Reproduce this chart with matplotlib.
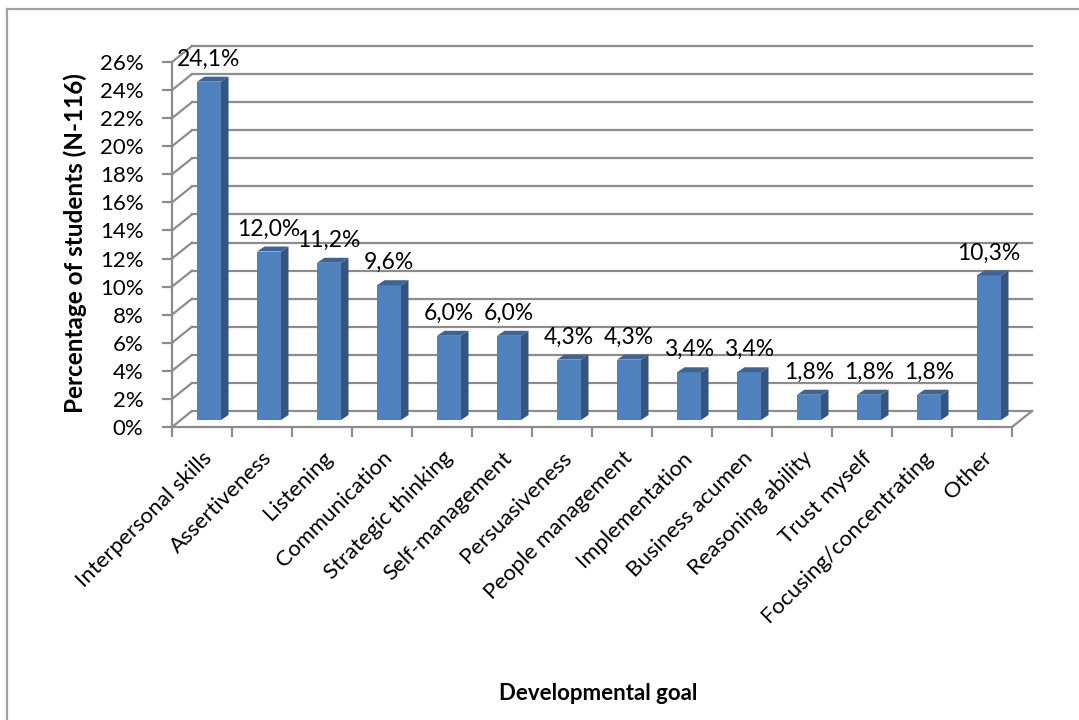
import matplotlib
matplotlib.use("Agg")
import matplotlib.pyplot as plt
from matplotlib.patches import Polygon
from matplotlib.lines import Line2D

# --- Data ---
goals = ["Interpersonal skills", "Assertiveness", "Listening", "Communication",
         "Strategic thinking", "Self-management", "Persuasiveness",
         "People management", "Implementation", "Business acumen",
         "Reasoning ability", "Trust myself", "Focusing/concentrating", "Other"]
shares = [24.1, 12.0, 11.2, 9.6, 6.0, 6.0, 4.3, 4.3, 3.4, 3.4, 1.8, 1.8, 1.8, 10.3]
y_ticks = list(range(0, 27, 2))

# --- Style ---
FRONT = "#4F81BD"
SIDE = "#34557F"
TOP = "#3C6496"
GRID = "#8C8C8C"
FS = 16
plt.rcParams["font.family"] = ["Lato", "DejaVu Sans"]

W, H, DPI = 1079, 720, 100
fig = plt.figure(figsize=(W / DPI, H / DPI), dpi=DPI)

# front plane of the plot area, in pixels
left, right, bottom, top = 172, 1012, 427, 62
ax = fig.add_axes([left / W, (H - bottom) / H, (right - left) / W, (bottom - top) / H])
ax.set_xlim(-0.5, len(goals) - 0.5)
ax.set_ylim(0, 26)
ax.patch.set_visible(False)

# pixel -> data unit helpers
px_x = (len(goals)) / (right - left)
px_y = 26 / (bottom - top)

# wall depth and bar placement (pixels)
wall_dx, wall_dy = 20 * px_x, 16 * px_y
bar_dx, bar_dy = 7 * px_x, 7 * px_y
depth_dx, depth_dy = 7.5 * px_x, 5 * px_y
bar_w = 24 * px_x

x0, x1 = -0.5, len(goals) - 0.5
lw = 1.6

# back wall gridlines + left wall diagonals
for t in y_ticks:
    ax.add_line(Line2D([x0 + wall_dx, x1 + wall_dx], [t + wall_dy] * 2,
                       color=GRID, lw=lw, clip_on=False, zorder=1))
    ax.add_line(Line2D([x0, x0 + wall_dx], [t, t + wall_dy],
                       color=GRID, lw=lw, clip_on=False, zorder=1))
# right edge of the floor
ax.add_line(Line2D([x1, x1 + wall_dx], [0, wall_dy],
                   color=GRID, lw=lw, clip_on=False, zorder=1))

# bars: front face, side face and top face
for i, v in enumerate(shares):
    xl = i - bar_w / 2 + bar_dx
    xr = xl + bar_w
    ax.bar(xl + bar_w / 2, v, width=bar_w, bottom=bar_dy, color=FRONT,
           edgecolor="none", zorder=3)
    ax.add_patch(Polygon([(xr, bar_dy), (xr + depth_dx, bar_dy + depth_dy),
                          (xr + depth_dx, bar_dy + v + depth_dy), (xr, bar_dy + v)],
                         closed=True, facecolor=SIDE, edgecolor="none", zorder=3,
                         clip_on=False))
    ax.add_patch(Polygon([(xl, bar_dy + v), (xr, bar_dy + v),
                          (xr + depth_dx, bar_dy + v + depth_dy),
                          (xl + depth_dx, bar_dy + v + depth_dy)],
                         closed=True, facecolor=TOP, edgecolor="none", zorder=3,
                         clip_on=False))
    label = f"{v:.1f}".replace(".", ",") + "%"
    ax.text(i + bar_dx, v + bar_dy + 12 * px_y, label, ha="center", va="bottom",
            fontsize=FS + 0.5, color="black", zorder=4, clip_on=False)

# axes
for s in ("top", "right"):
    ax.spines[s].set_visible(False)
for s in ("left", "bottom"):
    ax.spines[s].set_color(GRID)
    ax.spines[s].set_linewidth(lw)

ax.set_yticks(y_ticks)
ax.set_yticklabels([f"{t}%" for t in y_ticks], fontsize=FS)
ax.tick_params(axis="y", length=7, width=lw, color=GRID, pad=13.5)

ax.set_xticks(range(len(goals)))
ax.set_xticklabels(goals, rotation=45, ha="right", va="top",
                   rotation_mode="anchor", fontsize=FS)
ax.set_xticks([i - 0.5 for i in range(len(goals) + 1)], minor=True)
ax.tick_params(axis="x", which="major", length=0, pad=15)
ax.tick_params(axis="x", which="minor", length=7, width=lw, color=GRID)

fig.text(75 / W, 1 - 243 / H, "Percentage of students (N-116)", rotation=90,
         ha="center", va="center", fontsize=17.5, fontweight="bold")
fig.text(598 / W, 1 - 694 / H, "Developmental goal", ha="center", va="center",
         fontsize=FS, fontweight="bold")

# chart frame (left and top edges)
fig.add_artist(Line2D([7 / W, 7 / W], [0, 1 - 9 / H], color="#A0A0A0", lw=1.6,
                      transform=fig.transFigure))
fig.add_artist(Line2D([7 / W, 1], [1 - 9 / H, 1 - 9 / H], color="#A0A0A0", lw=1.6,
                      transform=fig.transFigure))

fig.savefig("out.png", dpi=DPI, facecolor="white")
